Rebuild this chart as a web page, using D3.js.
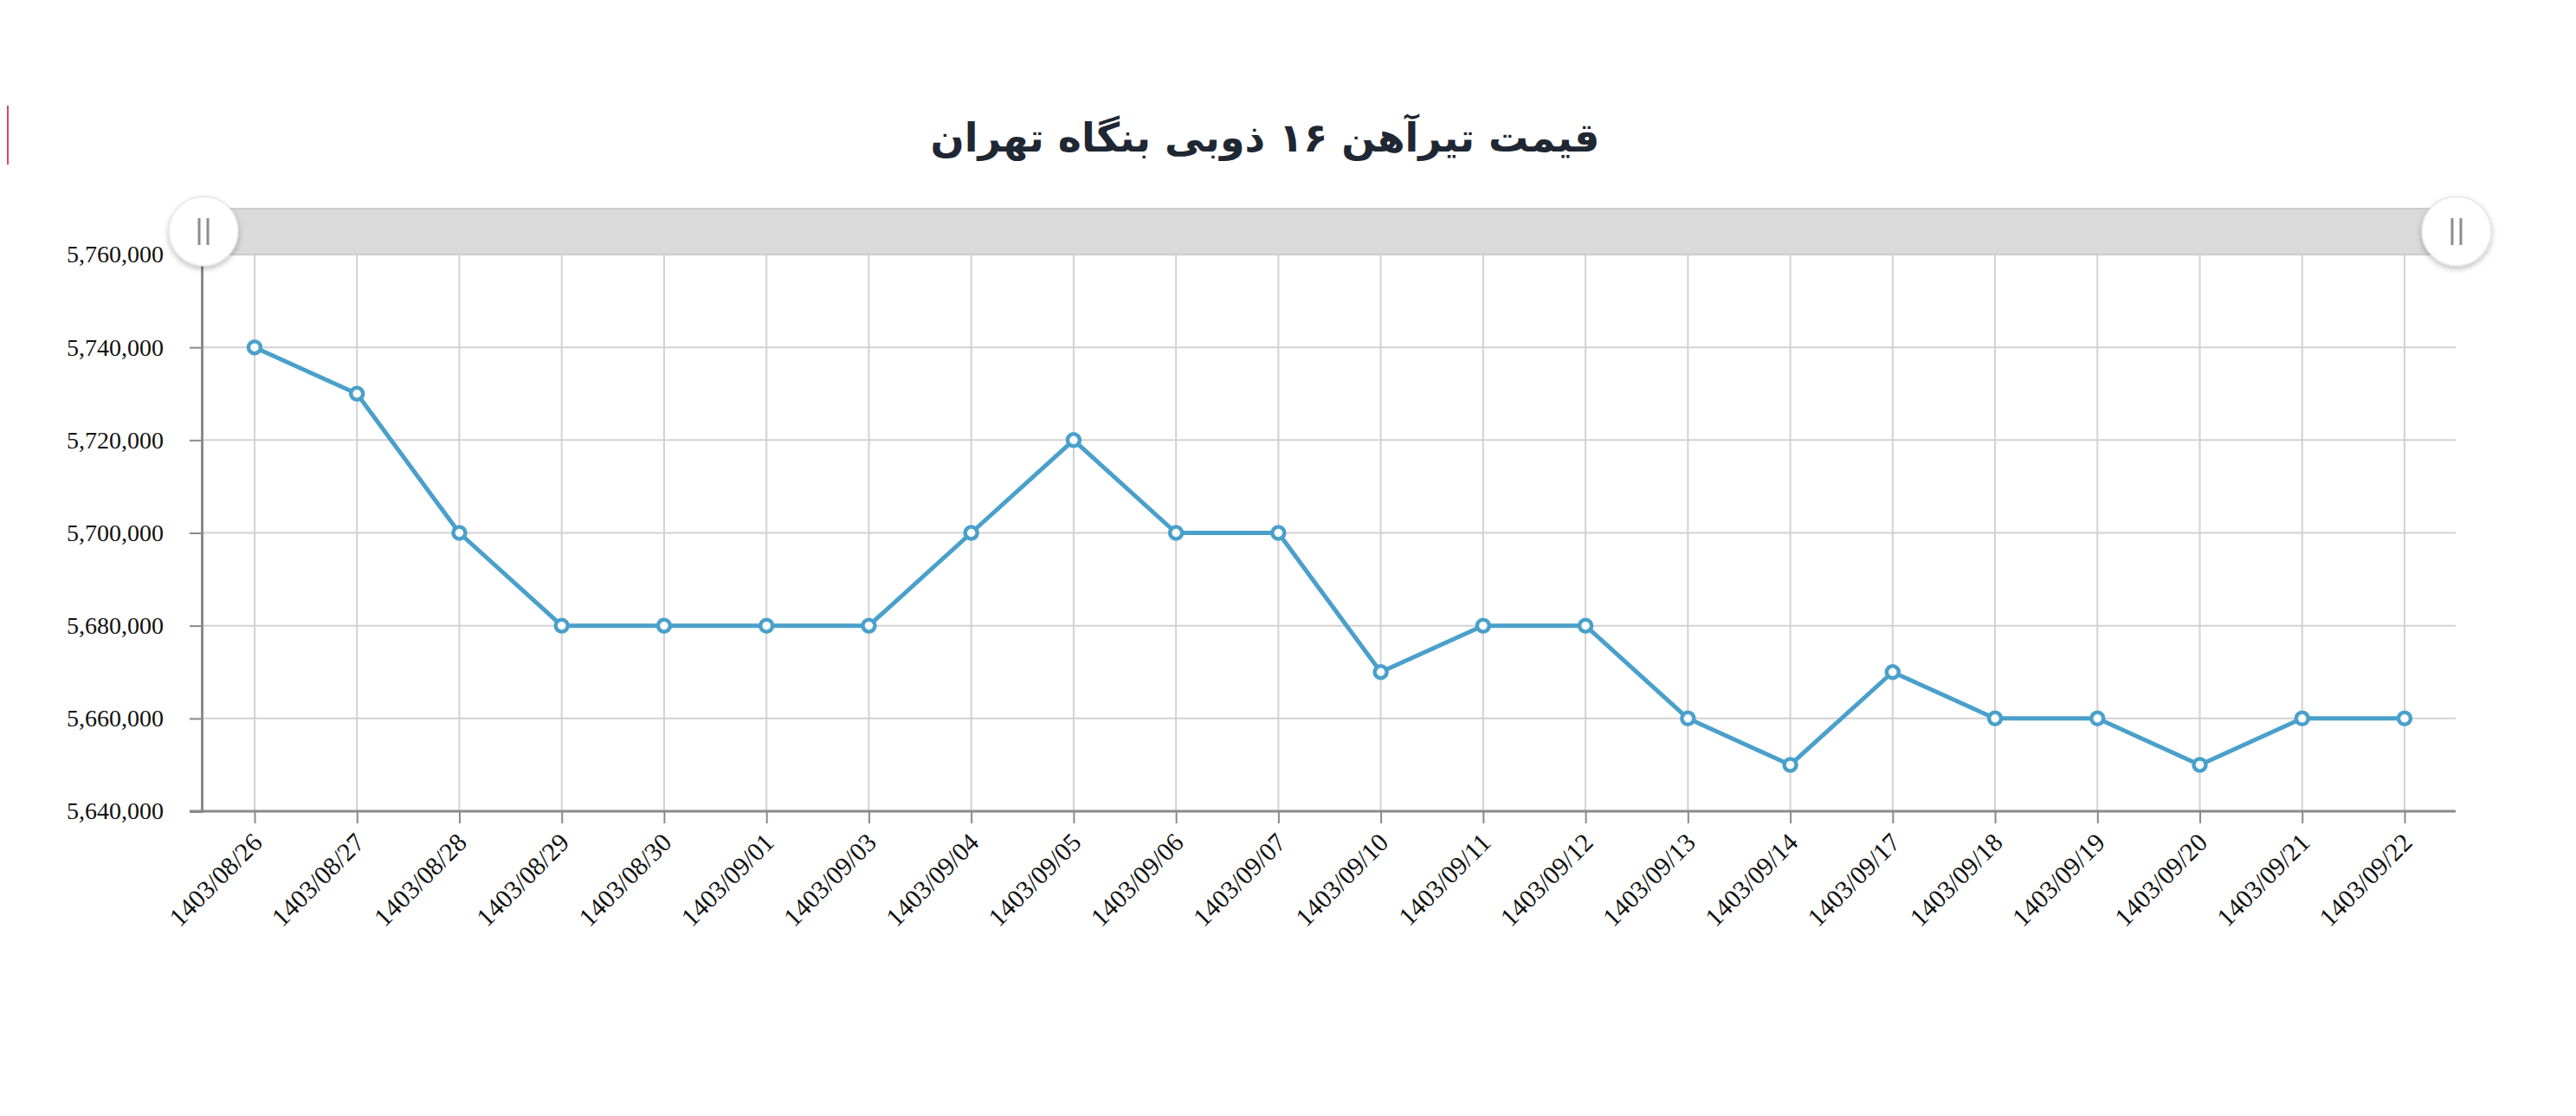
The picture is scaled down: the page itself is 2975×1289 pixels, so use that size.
<!DOCTYPE html>
<html>
<head>
<meta charset="utf-8">
<script src="https://cdn.jsdelivr.net/npm/d3@7/dist/d3.min.js"></script>
<style>
  html, body { margin: 0; padding: 0; background: #ffffff; }
  svg { display: block; }
</style>
</head>
<body>
<svg id="chart" width="2975" height="1289"></svg>
<script>
const titleText = "قیمت تیرآهن ۱۶ ذوبی بنگاه تهران";
const dates = ["1403/08/26","1403/08/27","1403/08/28","1403/08/29","1403/08/30","1403/09/01","1403/09/03","1403/09/04","1403/09/05","1403/09/06","1403/09/07","1403/09/10","1403/09/11","1403/09/12","1403/09/13","1403/09/14","1403/09/17","1403/09/18","1403/09/19","1403/09/20","1403/09/21","1403/09/22"];
const prices = [5740000,5730000,5700000,5680000,5680000,5680000,5680000,5700000,5720000,5700000,5700000,5670000,5680000,5680000,5660000,5650000,5670000,5660000,5660000,5650000,5660000,5660000];
const yTicks = [5640000,5660000,5680000,5700000,5720000,5740000,5760000];

const svg = d3.select("#chart");
const axisLeft = 233, axisRight = 2836, plotTop = 294, plotBottom = 937;

const x = d3.scalePoint().domain(dates).range([294, 2777]);
const y = d3.scaleLinear().domain([5640000, 5760000]).range([plotBottom, plotTop]);

// defs: shadow
const defs = svg.append("defs");
const f = defs.append("filter").attr("id", "shadow").attr("x", "-50%").attr("y", "-50%").attr("width", "200%").attr("height", "200%");
f.append("feDropShadow").attr("dx", 0).attr("dy", 3).attr("stdDeviation", 3).attr("flood-color", "#000").attr("flood-opacity", 0.25);

// red mark at left edge
svg.append("line").attr("x1", 9).attr("x2", 9).attr("y1", 122).attr("y2", 190)
  .attr("stroke", "#e0455c").attr("stroke-width", 2);

// Title
svg.append("text")
  .attr("x", 1461).attr("y", 175)
  .attr("text-anchor", "middle")
  .attr("direction", "rtl")
  .style("font-family", "'DejaVu Sans', 'Noto Sans', sans-serif")
  .style("font-weight", "bold")
  .style("font-size", "46px")
  .attr("fill", "#1f2733")
  .text(titleText);

// horizontal grid
svg.append("g").selectAll("line").data(yTicks).join("line")
  .attr("x1", axisLeft).attr("x2", axisRight)
  .attr("y1", d => y(d)).attr("y2", d => y(d))
  .attr("stroke", "#d2d2d2").attr("stroke-width", 2);

// vertical grid
svg.append("g").selectAll("line").data(dates).join("line")
  .attr("x1", d => x(d)).attr("x2", d => x(d))
  .attr("y1", plotTop).attr("y2", plotBottom)
  .attr("stroke", "#d2d2d2").attr("stroke-width", 2);

// Y axis
const yAxis = d3.axisLeft(y).tickValues(yTicks).tickSize(14).tickPadding(30)
  .tickFormat(d3.format(","));
const gy = svg.append("g").attr("transform", `translate(${axisLeft},0)`).call(yAxis);
gy.select(".domain").attr("stroke", "#8a8a8a").attr("stroke-width", 3);
gy.selectAll(".tick line").attr("stroke", "#8a8a8a").attr("stroke-width", 2);
gy.selectAll(".tick text")
  .style("font-family", "'Liberation Serif', 'Times New Roman', serif")
  .style("font-size", "28px").attr("fill", "#111");

// X axis
const xAxis = d3.axisBottom(x).tickSize(14).tickSizeOuter(0).tickPadding(6);
const gx = svg.append("g").attr("transform", `translate(0,${plotBottom})`).call(xAxis);
gx.select(".domain").attr("stroke", "#8a8a8a").attr("stroke-width", 3)
  .attr("d", `M${axisLeft - 14},0H${axisRight}`);
gx.selectAll(".tick line").attr("stroke", "#8a8a8a").attr("stroke-width", 2);
gx.selectAll(".tick text")
  .style("font-family", "'Liberation Serif', 'Times New Roman', serif")
  .style("font-size", "30px").attr("fill", "#111")
  .attr("text-anchor", "end")
  .attr("x", 0).attr("y", 0).attr("dy", "0")
  .attr("transform", "translate(10,38) rotate(-45)");

// Line
const line = d3.line().x((d, i) => x(dates[i])).y(d => y(d));
svg.append("path").datum(prices)
  .attr("d", line).attr("fill", "none")
  .attr("stroke", "#4aa0cb").attr("stroke-width", 5)
  .attr("stroke-linejoin", "round");

svg.append("g").selectAll("circle").data(prices).join("circle")
  .attr("cx", (d, i) => x(dates[i])).attr("cy", d => y(d))
  .attr("r", 7).attr("fill", "#fff")
  .attr("stroke", "#4aa0cb").attr("stroke-width", 4.5);

// Scrollbar (navigator)
const sbTop = 241, sbBottom = 294;
svg.append("rect").attr("x", 235).attr("y", sbTop)
  .attr("width", 2837 - 235).attr("height", sbBottom - sbTop)
  .attr("fill", "#dadada").attr("stroke", "#cdcdcd").attr("stroke-width", 2);

const handles = [235, 2837];
const hg = svg.append("g").selectAll("g").data(handles).join("g")
  .attr("transform", d => `translate(${d},267)`);
hg.append("circle").attr("r", 40).attr("fill", "#fff")
  .attr("stroke", "#e6e6e6").attr("stroke-width", 1.5)
  .attr("filter", "url(#shadow)");
hg.append("line").attr("x1", -5).attr("x2", -5).attr("y1", -15).attr("y2", 16)
  .attr("stroke", "#8c8c8c").attr("stroke-width", 3);
hg.append("line").attr("x1", 5).attr("x2", 5).attr("y1", -15).attr("y2", 16)
  .attr("stroke", "#8c8c8c").attr("stroke-width", 3);
</script>
</body>
</html>
